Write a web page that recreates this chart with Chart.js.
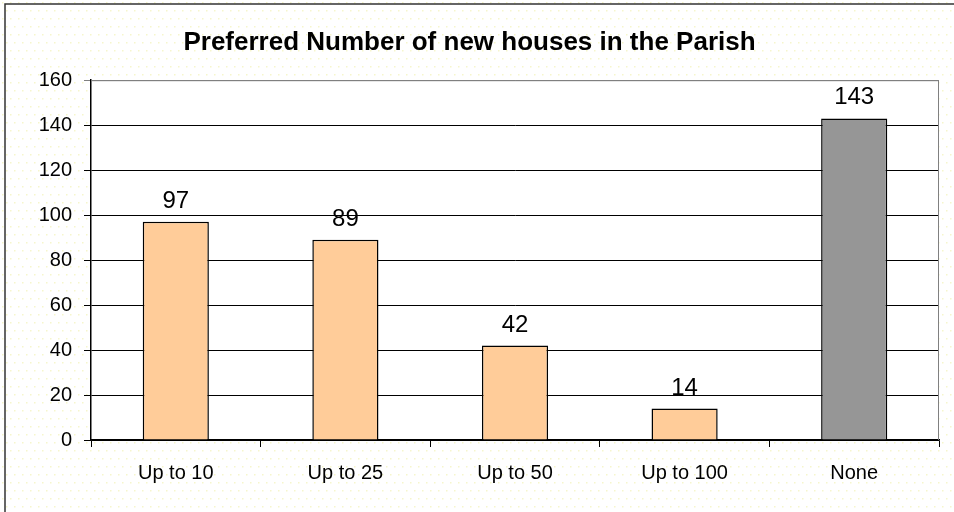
<!DOCTYPE html>
<html>
<head>
<meta charset="utf-8">
<script src="https://cdn.jsdelivr.net/npm/chart.js@4/dist/chart.umd.min.js"></script>
<style>
  html, body { margin: 0; padding: 0; background: #fff; }
  #wrap { width: 954px; height: 512px; }
</style>
</head>
<body>
<div id="wrap"><canvas id="houseChart" width="954" height="512"></canvas></div>
<script>
// chart data
const categories = ['Up to 10', 'Up to 25', 'Up to 50', 'Up to 100', 'None'];
const responses = [97, 89, 42, 14, 143];
const barColours = ['#FFCC99', '#FFCC99', '#FFCC99', '#FFCC99', '#969696'];
const yTicks = [0, 20, 40, 60, 80, 100, 120, 140, 160];

const FONT = '"Liberation Sans", Arial, sans-serif';

// dotted background, outer frame and white plot area
const backgroundPlugin = {
    id: 'background',
    beforeDraw(chart) {
        const c = chart.ctx;
        const area = chart.chartArea;
        c.save();
        c.fillStyle = '#ffffff';
        c.fillRect(0, 0, chart.width, chart.height);
        c.fillStyle = '#f6f6cc';
        for (let y = 2; y < chart.height; y += 8) {
            const shift = (Math.round(y / 8) % 2) * 4;
            for (let x = 2 + shift; x < chart.width; x += 8) {
                c.fillRect(x, y, 1.5, 1.5);
            }
        }
        c.strokeStyle = '#333';
        c.lineWidth = 1.5;
        c.beginPath();
        c.moveTo(5, chart.height);
        c.lineTo(5, 4);
        c.lineTo(chart.width, 4);
        c.stroke();
        c.fillStyle = '#ffffff';
        c.fillRect(area.left, area.top, area.right - area.left, area.bottom - area.top);
        c.restore();
    },
    afterDraw(chart) {
        // grey right / top edge of the plot area
        const c = chart.ctx;
        const area = chart.chartArea;
        c.save();
        c.strokeStyle = '#808080';
        c.lineWidth = 1;
        c.beginPath();
        c.moveTo(area.left, area.top + 0.5);
        c.lineTo(area.right - 0.5, area.top + 0.5);
        c.lineTo(area.right - 0.5, area.bottom);
        c.stroke();
        c.restore();
    }
};

// value labels above each bar
const valueLabels = {
    id: 'valueLabels',
    afterDatasetsDraw(chart) {
        const c = chart.ctx;
        const meta = chart.getDatasetMeta(0);
        c.save();
        c.font = '24px ' + FONT;
        c.fillStyle = '#000';
        c.textAlign = 'center';
        c.textBaseline = 'alphabetic';
        meta.data.forEach((bar, i) => {
            c.fillText(String(responses[i]), bar.x, bar.y - 14);
        });
        c.restore();
    }
};

const ctx = document.getElementById('houseChart').getContext('2d');

const houseChart = new Chart(ctx, {
    type: 'bar',
    data: {
        labels: categories,
        datasets: [{
            label: 'Responses',
            data: responses,
            backgroundColor: barColours,
            borderColor: '#000',
            borderWidth: 1.5,
            categoryPercentage: 1,
            barPercentage: 0.39
        }]
    },
    options: {
        responsive: false,
        animation: false,
        layout: { padding: { left: 0, right: 15, top: 0, bottom: 0 } },
        plugins: {
            legend: { display: false },
            tooltip: { enabled: false },
            title: {
                display: true,
                text: 'Preferred Number of new houses in the Parish',
                color: '#000',
                font: { family: FONT, size: 26, weight: 'bold', lineHeight: 1.2 },
                padding: { top: 27, bottom: 22 }
            }
        },
        scales: {
            x: {
                grid: {
                    offset: true,
                    drawOnChartArea: false,
                    drawTicks: true,
                    tickLength: 7,
                    color: '#000'
                },
                border: { color: '#000', width: 1.5 },
                ticks: {
                    color: '#000',
                    padding: 14,
                    font: { family: FONT, size: 20 }
                },
                afterFit(scale) { scale.height = 72; }
            },
            y: {
                min: 0,
                max: 160,
                afterBuildTicks(scale) {
                    scale.ticks = yTicks.map(v => ({ value: v }));
                },
                grid: {
                    color: ctx => ctx.tick && ctx.tick.value === 160 ? '#808080' : '#000',
                    tickLength: 7,
                    lineWidth: 1
                },
                border: { color: '#000', width: 1.5 },
                ticks: {
                    color: '#000',
                    padding: 12,
                    font: { family: FONT, size: 20 }
                },
                afterFit(scale) { scale.width = 91; }
            }
        }
    },
    plugins: [backgroundPlugin, valueLabels]
});
</script>
</body>
</html>
